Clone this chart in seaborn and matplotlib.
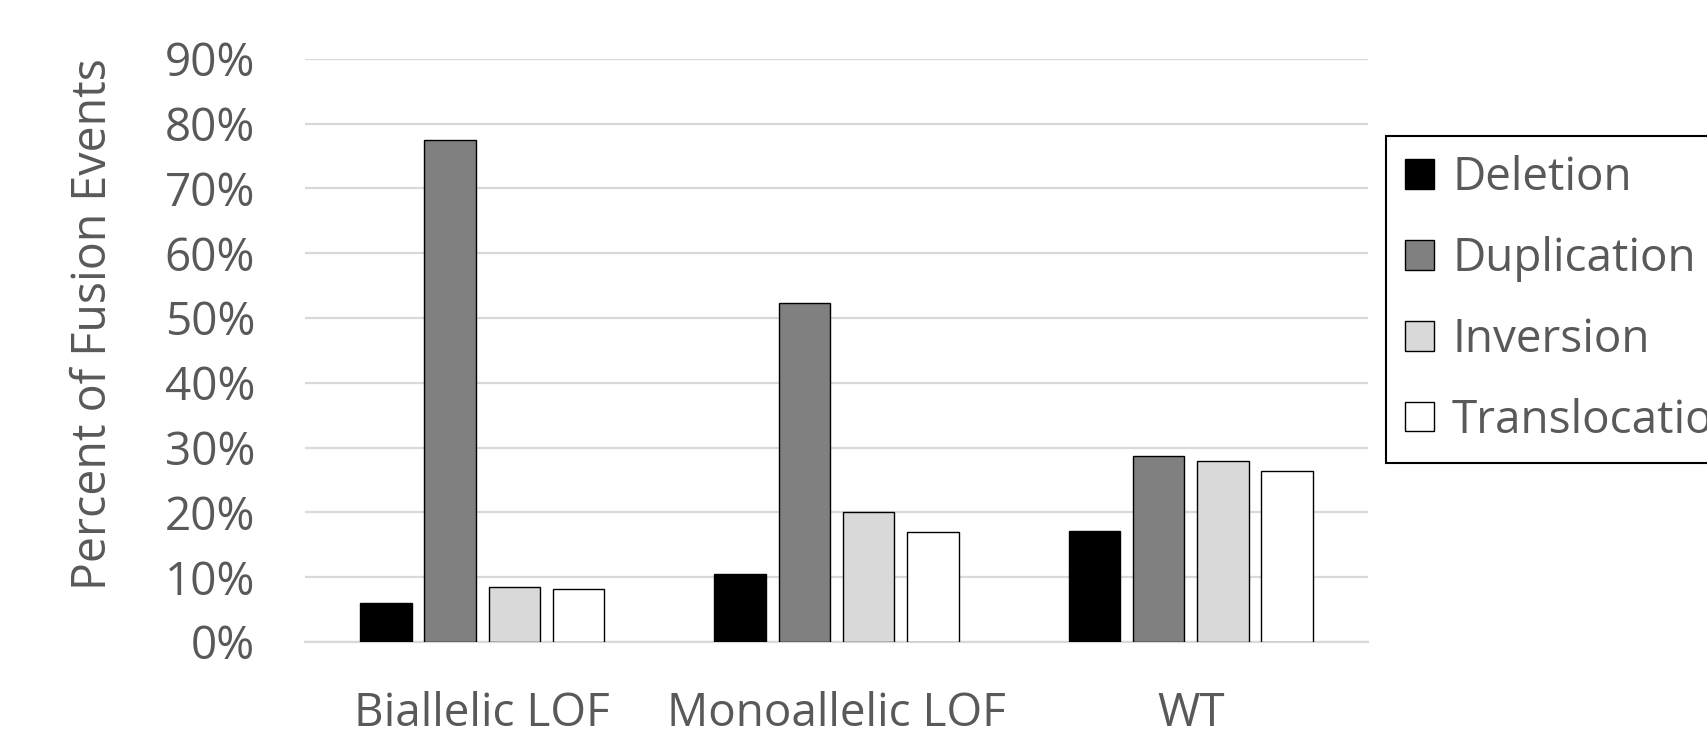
import matplotlib
matplotlib.use("Agg")
import matplotlib.pyplot as plt
import seaborn as sns
import pandas as pd
from matplotlib.ticker import PercentFormatter

# Share of fusion events by event type for each genotype group
genotypes = ["Biallelic LOF", "Monoallelic LOF", "WT"]
event_types = ["Deletion", "Duplication", "Inversion", "Translocation"]
deletion = [0.060, 0.105, 0.171]
duplication = [0.774, 0.523, 0.287]
inversion = [0.085, 0.201, 0.279]
translocation = [0.082, 0.170, 0.264]
y_ticks = [0.0, 0.1, 0.2, 0.3, 0.4, 0.5, 0.6, 0.7, 0.8, 0.9]

fills = ["#000000", "#808080", "#D9D9D9", "#FFFFFF"]
text_color = "#595959"

df = pd.DataFrame({
    "genotype": genotypes * 4,
    "event": [e for e in event_types for _ in genotypes],
    "share": deletion + duplication + inversion + translocation,
})

sns.set_theme(style="white")
plt.rcParams["font.family"] = ["Open Sans", "DejaVu Sans"]

fig = plt.figure(figsize=(17.07, 7.42), dpi=100)
ax = fig.add_axes([0.1787, 0.1348, 0.8014 - 0.1787, 0.9208 - 0.1348])

sns.barplot(data=df, x="genotype", y="share", hue="event",
            order=genotypes, hue_order=event_types,
            palette=fills, width=0.725, gap=0.2,
            edgecolor="#000000", linewidth=1.0, ax=ax, zorder=3,
            errorbar=None, legend=True)

ax.set_ylim(0, 0.9)
ax.set_yticks(y_ticks)
ax.yaxis.set_major_formatter(PercentFormatter(1.0, decimals=0))
ax.yaxis.grid(True, color="#D9D9D9", linewidth=1.6, zorder=0)
ax.set_axisbelow(True)
for side in ["top", "right", "left"]:
    ax.spines[side].set_visible(False)
ax.spines["bottom"].set_color("#D9D9D9")
ax.spines["bottom"].set_linewidth(1.6)

ax.tick_params(axis="y", length=0, pad=36, labelsize=33, labelcolor=text_color)
ax.tick_params(axis="x", length=0, pad=35, labelsize=33, labelcolor=text_color)
ax.set_xlabel("")
ax.set_ylabel("Percent of Fusion Events", fontsize=33.5, color=text_color)
ax.yaxis.set_label_coords(-0.177, 0.545)

leg = ax.legend(loc="upper left", bbox_to_anchor=(0.812, 0.8167),
                bbox_transform=fig.transFigure, fontsize=33,
                frameon=True, fancybox=False, framealpha=1,
                edgecolor="#000000", borderpad=0.42, labelspacing=0.76,
                handlelength=0.62, handleheight=0.62, handletextpad=0.4,
                borderaxespad=0)
leg.get_frame().set_linewidth(1.5)
for t in leg.get_texts():
    t.set_color(text_color)

fig.savefig("out.png", dpi=100)
